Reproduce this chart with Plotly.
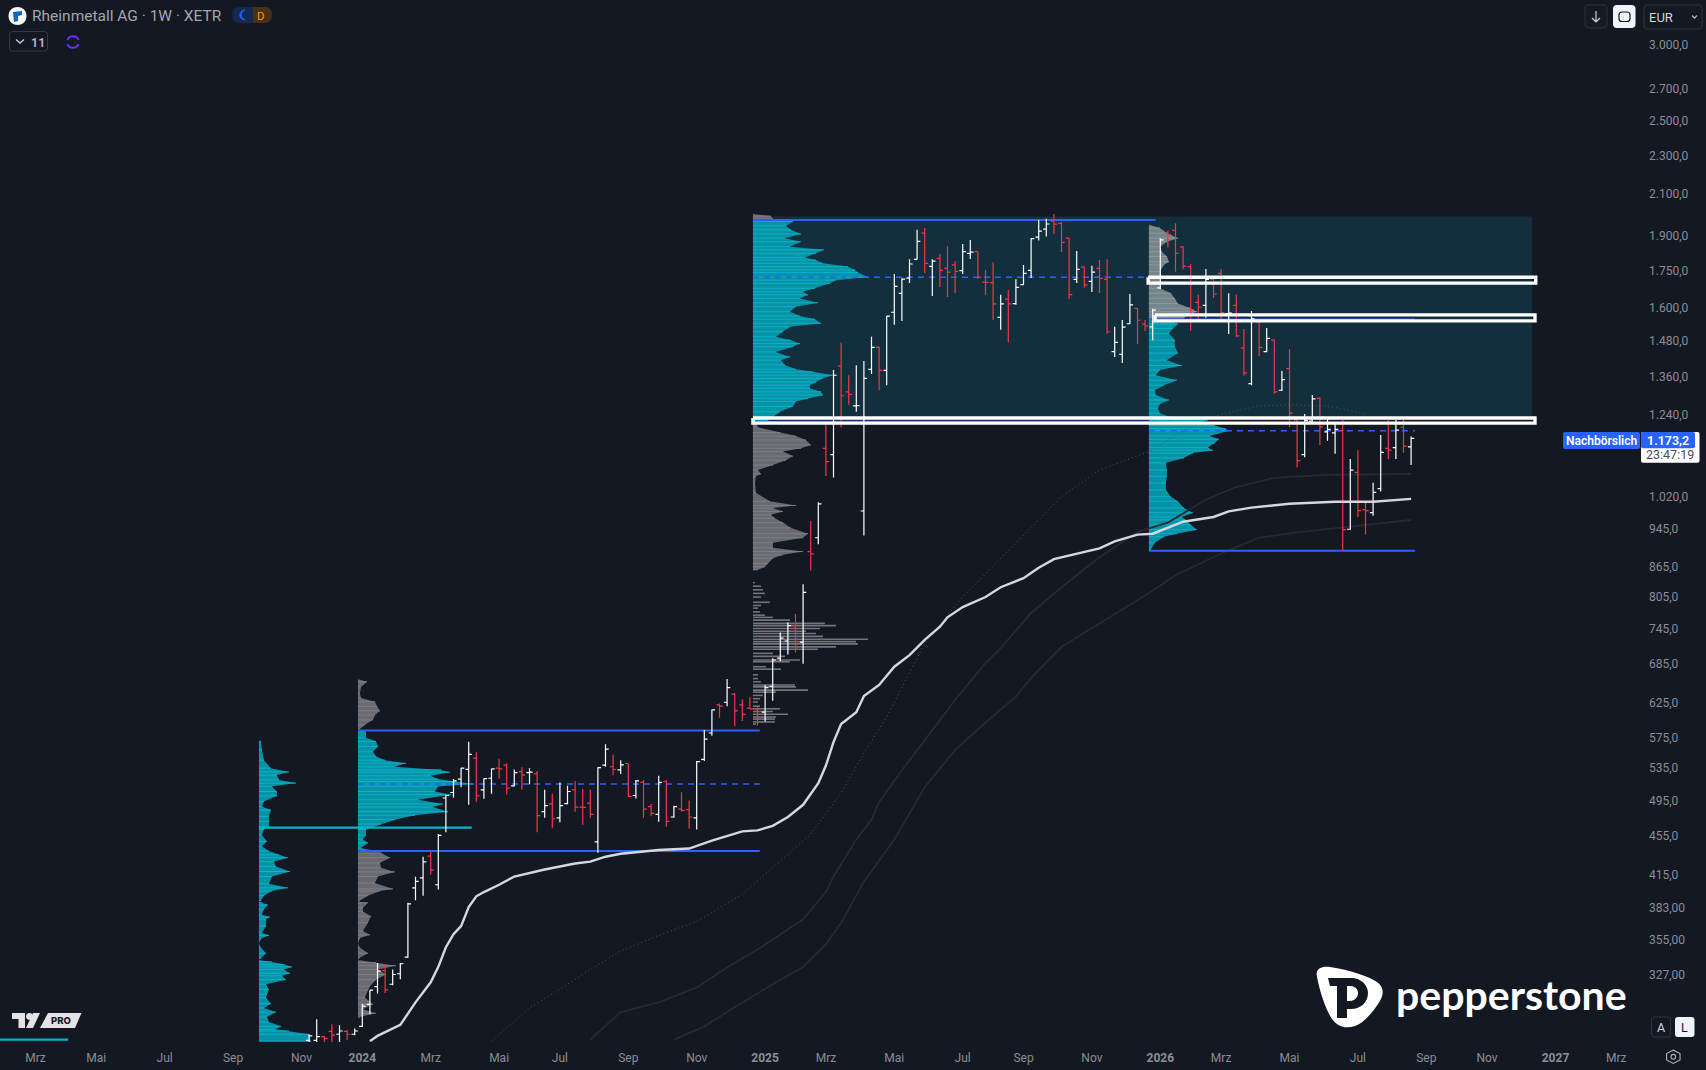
import pandas as pd
import plotly.graph_objects as go

BG = "#141823"
WEEK_PX = 7.6
X0_PX = 362.3
PLOT_W = 1640
PLOT_H = 1042
BASE = pd.Timestamp("2024-01-01")

# ---------- weekly OHLC, from 2023-11-13 ----------
first_week = "2023-11-13"
opens = [279.5,279.5,282,285.6,283.6,285.6,283.6,289,304.6,317.7,330,319.5,327.6,340.9,402,411.7,433.5,405,498,504.6,521,533.3,547.7,507.8,522,534.7,538.7,512.7,530.3,529,527.4,482,491,475,491.4,507.8,487.4,492,448.6,538.7,536.5,532.5,540.7,501,517,488,479,518,476,485,484.3,475,546,581.5,621.7,625.7,638,
 621.7,617,616,611,650,695,724,746,722,
 896,926,1146,1129,1394,1311,1268,987,1383,1458,1380,1585,1658,1719,1798,1914,1768,1802,1760,1774,1750,1824,1831,1703,1701,1566,1635,1618,1693,1751,1896,1932,1969,1959,1891,1714,1765,1706,1760,1714,1443,1434,1542,1600,1541,1531,
 1680,1915,1926,1852,1767,1623,1611,1715,1739,1580,1611,1455,1337,1549,1443,1483,1316,1386,1226,1129,1223,1291,1192,1189,1195,945,1082,990,983,1041,1146,1148,1205,1150]
highs = [283.6,294,282.5,290.5,289.8,286.5,287.5,305,315.2,336,335,331,336,388,412.7,433,438.5,457,502,521,535.4,569.3,555.4,522,534,547,541,533,536,534.7,531,507.8,503,516.8,512.7,518.7,509,507.8,536,566,552,545,541,520,520,491,525,520,489,505,495,544,585.6,615,624,661.5,639.6,
 630,633,618.5,652,695,739,757,772,829,
 964,1008,1214,1381,1475,1364,1397,1411,1495,1462,1571,1736,1719,1798,1929,1937,1798,1821,1855,1791,1865,1883,1831,1753,1786,1652,1671,1715,1774,1891,1975,1980,2003,1964,1891,1834,1768,1771,1795,1798,1531,1556,1655,1600,1556,1598,
 1891,1926,1959,1855,1778,1652,1757,1718,1757,1658,1652,1523,1590,1552,1527,1485,1378,1451,1226,1244,1301,1294,1231,1214,1226,1117,1141,1010,1056,1183,1226,1226,1226,1179]
lows = [278,278,278.5,278,278,279.8,283,288.6,297.5,312.6,313,318.7,323.3,340.4,390.3,394.6,415,400.5,459,498.3,511,490,493.6,497,503,521.3,502,512,507.8,514.7,459,475,463.4,470,490.6,482,467.4,475,437,536.5,526,527.4,499.6,497.5,475,476.7,470.6,465,475,482,463,462,544,577.5,603,619.7,591,
 598.4,616,592,597.6,628,690,701,704.5,686,
 856,912,1073,1069,1204,1272,1250,931,1368,1316.6,1332,1538,1552,1699,1797,1740,1648,1683,1644,1659,1736,1799,1716,1652,1556,1520,1476,1614,1692,1720,1880,1898,1910,1830,1636,1699,1680,1663,1659,1506,1425,1404,1540,1469,1516,1483,
 1675,1849,1746,1756,1517,1553,1564,1640,1553,1505,1494,1362,1332,1428,1441,1306,1314,1206,1095,1122,1221,1155,1167,1131,898,944,973,933,976,1034,1117,1117,1134,1101]
closes = [282.5,282,280.8,283,285.8,283.6,285.8,303.3,315,329.7,315.2,327,335.5,387,408.3,427.7,419.3,455.6,501,518.7,534.7,552.7,500.6,521.5,533.7,533.7,510,529,526,529.6,477.5,489,474,489,505.8,487.4,487,479,535.5,559.5,533,539,500,518.7,485,480,517,471,488,483.5,476,543,573,614.5,620,648,613,
 608,616,612,648,692,729,751,719,813,
 891,1004,1110,1364,1299,1303,1269,1354,1458,1380,1570,1686,1715,1778,1877,1781,1790,1751,1744,1747,1831,1829,1723,1702,1617,1617,1617,1682,1739,1889,1923,1956,1955,1872,1653,1756,1692,1744,1718,1513,1475,1530,1613,1555,1534,1593,
 1883,1906,1824,1769,1594,1604,1714,1655,1584,1582,1498,1372,1560,1458,1489,1311,1350,1246,1113,1224,1289,1206,1199,1199,944,1088,988,988,1032,1135,1141,1197,1152,1173.2]

# ---------- moving averages: (week number since 2024-01-01, price) ----------
ma_wk = [1,2,5,7,9,10,11,12,13,14,15,16,18,20,24,28,30,32,34,39,43,46,50,52,54,56,58,60,61,62,63,65,66,68,70,72,74,76,77,79,82,84,87,89,91,94,97,99,102,104,106,108,112,114,117,122,128,133,138]
ma_px = [279,282.5,290,306,321,333,349,360,367,384,394,398,405,413,420,426,428,433,436,440,441.5,450,460,461,466,476,490,516,538,569,594,611,635,652,681,700,726,749,766,785,804,823,841,862,880,892,903,918,933,935,948,962,973,986,995,1004,1009,1009,1016]
dot_wk = [17,22,27,30,34,39,44,50,59,63,66,69,72,74,79,84,88,92,97,104,108,113,118,122,127,132]
dot_px = [279,302,319.5,331,345.7,359,371,396,457,504,554,604,671,721,804,882,950,1021,1088,1141,1197,1243,1268,1271,1268,1243]
upper_wk = [30,34,39,44,48,52,58,61,62,65,67,68,71,75,78,82,84,88,92,97,102,106,111,115,120,127,138]
upper_px = [280,299,306,317,332.5,347,373,398,413,451,473,493,532,586,629,687,712,774,823,884,939,960,1014,1045,1068,1076,1078]
lower_wk = [41,45,49,54,58,61,63,66,70,74,78,82,86,88,92,97,103,107,113,118,123,138]
lower_px = [280,289,302.5,319.5,333,351.5,370,408,451,511,558.5,596,634,663,714,755,807,847,892,926,938,966]

# ---------- volume profiles: price level / volume (arbitrary units) ----------
a_lv = [570,558.5,545,534.7,530,526,520,516,512,505.8,500.6,494,488,484,476.7,471,465,462,456,449,444,439,435,432,428,423,418,413,406,402,399,394.6,390,389,388,386,382,377,375,373,367,361,359,356,352,348.6,344,340,338.5,337,335,333,331,328,326,323,319.5,315.7,312,309.5,305,302,299,295.5,292,289,287,285.8,283.6,279]
a_vol = [2,3,5,12,30,18,20,37,13,18,18,5,3,12,10,10,10,5,3,8,3,10,20,29,15,17,31,13,10,29,13,5,2,0,3,9,5,3,11,7,7,3,10,2,0,2,7,2,0,13,25,33,25,31,23,27,7,10,8,7,12,5,17,8,10,22,17,30,50,52]
b_up_lv = [661,657,649,639,632,626.5,619.7,613,607,600,593,587]
b_up_vol = [0,9,3,2,3,17,19,22,17,15,7,2]
b_mid_lv = [585,583,575,570,563,556,550,545,541,536.5,532.5,529.6,525,521,518,515,512,505.8,502,496,491,487.4,482,478,473,468,462,456,451,447.6,442,438.5]
b_mid_vol = [0,8,8,18,20,15,18,27,48,37,83,92,73,80,97,115,80,77,93,60,85,75,90,57,37,23,8,8,5,10,3,20]
b_lo_lv = [437,432,426.5,421.7,417.6,413,406.6,401,399,394.6,389.7,389,388,383.5,380,375.6,370,362.7,359.4,356.8,352,348.6,344,340.6,338.5,336.5,334,331,327,323,318,315,309.5,304.6,301,298.2,295.4]
b_lo_vol = [23,32,22,23,37,20,17,35,22,10,2,0,10,5,5,13,10,5,12,2,0,2,10,2,0,18,38,20,28,18,12,10,7,15,5,18,2]
c_top_lv = [2003,1993,1980]
c_top_vol = [0,18,20]
c_mid_lv = [1975,1968,1947,1929,1910,1891,1875,1853,1839,1824,1806,1795,1781,1767,1753,1742,1723,1711,1698,1678,1664,1652,1638,1621,1606,1587,1571,1559,1544,1531,1513,1495,1483,1471,1460,1442,1425,1414,1398,1384,1375,1364,1354,1342,1332,1322,1311,1301,1291,1281,1266,1250,1235,1224]
c_mid_vol = [30,40,33,38,48,32,48,37,71,63,52,63,70,95,102,105,115,83,77,62,50,55,47,65,43,37,47,62,68,37,30,23,38,47,40,23,37,28,32,43,60,80,70,63,57,57,68,70,55,43,40,27,20,15]
c_lo_lv = [1215,1205,1190,1180,1169,1155,1146,1137,1125,1114,1101,1088,1078,1072,1055,1031,1010,1000,994,986,978,970,960,948,935,926,915,904,896,889,882,871,864,858]
c_lo_vol = [3,5,27,43,53,58,48,30,40,33,20,5,8,3,2,3,17,43,20,30,18,22,30,38,55,50,20,20,50,30,20,15,12,5]
c_sparse_lv = [832,825,818,811,804,794,788,783,776,770,766,761,755,751,746,741,737,732,727,723,719,714,710,703,698,692,689,681,677,668,662,657,652,649,644,641,636,631,626,620,616,612,608,604,601,597,594]
c_sparse_vol = [2,8,10,12,8,17,8,5,7,12,20,37,72,83,67,53,63,70,115,103,105,83,65,20,32,47,37,13,28,5,5,8,42,43,55,23,10,7,5,7,27,20,35,23,22,22,3]
d_up_lv = [1953,1937,1914,1891,1875,1853,1831,1810,1788,1774,1746,1725,1698,1678,1658,1638,1618,1600,1587,1575,1563]
d_up_vol = [0,11,18,29,18,11,13,18,20,15,11,13,11,11,22,26,29,42,48,40,35]
d_lo_lv = [1558,1541,1525,1507,1483,1460,1438,1414,1396,1381,1364,1348,1332,1316,1301,1286,1274,1261,1246,1234,1226,1218,1210,1201,1195,1180,1171,1161,1148,1141,1133,1120,1107,1088,1072,1055,1038,1021,1010,994,983,973,966,955,944,935,928,915,900]
d_lo_vol = [20,29,24,20,26,26,29,18,33,11,7,28,15,6,7,20,11,9,11,22,59,51,66,77,80,61,70,66,59,64,44,35,17,18,18,17,17,22,29,35,44,33,37,42,48,28,15,6,2]

# ---------- reference levels (price) ----------
a_poc, old_poc = 464, 280
b_high, b_low, b_poc = 585, 439, 515
c_high, c_low, c_poc = 1975, 1221, 1723
d_high, d_low, d_poc = 1558, 898, 1195
zone_high, zone_low = 1991, 1226
box_1 = (1723, 1699)
box_2 = (1575, 1552.6)
box_3 = (1232, 1217)

# ---------- axis labels ----------
y_ticks = [3000,2700,2500,2300,2100,1900,1750,1600,1480,1360,1240,1020,945,865,805,745,685,625,575,535,495,455,415,383,355,327]
y_text = ["3.000,0","2.700,0","2.500,0","2.300,0","2.100,0","1.900,0","1.750,0","1.600,0","1.480,0","1.360,0","1.240,0","1.020,0","945,0","865,0","805,0","745,0","685,0","625,0","575,0","535,0","495,0","455,0","415,0","383,00","355,00","327,00"]
x_ticks = ["2023-03-06","2023-05-01","2023-07-03","2023-09-04","2023-11-06","2024-01-01","2024-03-04","2024-05-06","2024-07-01","2024-09-02","2024-11-04","2025-01-06","2025-03-03","2025-05-05","2025-07-07","2025-09-01","2025-11-03","2026-01-05","2026-03-02","2026-05-04","2026-07-06","2026-09-07","2026-11-02","2027-01-04","2027-03-01"]
x_text = ["Mrz","Mai","Jul","Sep","Nov","<b>2024</b>","Mrz","Mai","Jul","Sep","Nov","<b>2025</b>","Mrz","Mai","Jul","Sep","Nov","<b>2026</b>","Mrz","Mai","Jul","Sep","Nov","<b>2027</b>","Mrz"]


def wk(n):
    return BASE + pd.to_timedelta(n * 7, unit="D")


A_AT, B_AT, C_AT, D_AT = -13.6, -0.57, 51.4, 103.5
CYAN, CYAN_STRIPE = "#0892a6", "#08b2c8"
GREY, GREY_STRIPE = "#696b71", "#7c7f87"
D_GREY, D_GREY_STRIPE = "#76858a", "#8b989c"
BLUE = "#2962ff"
TOP = dict(xaxis="x3", yaxis="y3")

fig = go.Figure()


def line(xs, ys, color, width, dash="solid", **kw):
    fig.add_trace(go.Scatter(x=xs, y=ys, mode="lines", hoverinfo="skip", showlegend=False,
                             line=dict(color=color, width=width, dash=dash), **kw))


def profile(at, levels, vols, fill, stripe):
    xs = [wk(at + v / WEEK_PX) for v in vols]
    fig.add_trace(go.Scatter(x=[wk(at)] + xs + [wk(at)], y=[levels[0]] + levels + [levels[-1]],
                             mode="lines", fill="toself", fillcolor=fill, line=dict(width=0),
                             hoverinfo="skip", showlegend=False))
    sx, sy = [], []
    for x, p in zip(xs, levels):
        sx += [wk(at), x, None]
        sy += [p, p, None]
    line(sx, sy, stripe, 1)


def comb(at, levels, vols, color):
    sx, sy = [], []
    for v, p in zip(vols, levels):
        sx += [wk(at), wk(at + v / WEEK_PX), None]
        sy += [p, p, None]
    line(sx, sy, color, 1.6)


def box(l, r, y0, y1):
    line([wk(l), wk(r), wk(r), wk(l), wk(l)], [y0, y0, y1, y1, y0], "#ffffff", 3.4, **TOP)


# zone
fig.add_trace(go.Scatter(x=[wk(C_AT), wk(153.9), wk(153.9), wk(C_AT), wk(C_AT)],
                         y=[zone_high, zone_high, zone_low, zone_low, zone_high],
                         mode="lines", fill="toself", fillcolor="#132f3d", line=dict(width=0),
                         hoverinfo="skip", showlegend=False))

# profiles
profile(A_AT, a_lv, a_vol, CYAN, CYAN_STRIPE)
profile(B_AT, b_up_lv, b_up_vol, GREY, GREY_STRIPE)
profile(B_AT, b_mid_lv, b_mid_vol, CYAN, CYAN_STRIPE)
profile(B_AT, b_lo_lv, b_lo_vol, GREY, GREY_STRIPE)
profile(C_AT, c_top_lv, c_top_vol, GREY, GREY_STRIPE)
profile(C_AT, c_mid_lv, c_mid_vol, CYAN, CYAN_STRIPE)
profile(C_AT, c_lo_lv, c_lo_vol, GREY, GREY_STRIPE)
comb(C_AT, c_sparse_lv, c_sparse_vol, "#73757c")
profile(D_AT, d_up_lv, d_up_vol, D_GREY, D_GREY_STRIPE)
profile(D_AT, d_lo_lv, d_lo_vol, CYAN, CYAN_STRIPE)

# dim averages
line([wk(w) for w in upper_wk], upper_px, "#262a34", 1.8)
line([wk(w) for w in lower_wk], lower_px, "#262a34", 1.8)
line([wk(w) for w in dot_wk], dot_px, "#55553a", 1, dash="1px,3px")

# levels
line([wk(A_AT), wk(14.4)], [a_poc, a_poc], "#00b4cc", 2.2)
line([wk(-47.7), wk(-38.7)], [old_poc, old_poc], "#00b4cc", 2.2)
for at, end, hi, lo, poc in [(B_AT, 52.3, b_high, b_low, b_poc), (C_AT, 104.4, c_high, c_low, c_poc), (D_AT, 138.5, d_high, d_low, d_poc)]:
    line([wk(at), wk(end)], [hi, hi], BLUE, 2)
    line([wk(at), wk(end)], [lo, lo], BLUE, 2)
    line([wk(at), wk(end)], [poc, poc], BLUE, 1.4, dash="6px,5px")

# price bars (overlay axes keep them above the area fills)
dates = pd.date_range(first_week, periods=len(opens), freq="7D")
fig.add_trace(go.Ohlc(x=dates, open=opens, high=highs, low=lows, close=closes, tickwidth=0.42,
                      hoverinfo="skip", showlegend=False, xaxis="x2", yaxis="y2",
                      increasing=dict(line=dict(color="#ffffff", width=1.2)),
                      decreasing=dict(line=dict(color="#f23645", width=1.2))))

line([wk(w) for w in ma_wk], ma_px, "#d6d8de", 2.4, **TOP)

box(103.4, 154.4, *box_1)
box(104.3, 154.3, *box_2)
box(51.4, 154.3, *box_3)


# ---------- interface chrome, placed in pixels ----------
def X(px):
    return px / PLOT_W


def Y(py):
    return 1 - py / PLOT_H


def pth(s):
    out, is_x = [], True
    for tok in s.split():
        if tok.isalpha():
            out.append(tok)
        else:
            out.append(f"{X(float(tok)) if is_x else Y(float(tok)):.6f}")
            is_x = not is_x
    return " ".join(out)


shapes = []


def shape(s, fill=None, stroke=None, width=1):
    shapes.append(dict(type="path", path=pth(s), xref="paper", yref="paper", layer="above",
                       fillcolor=fill or "rgba(0,0,0,0)",
                       line=dict(color=stroke or "rgba(0,0,0,0)", width=width if stroke else 0)))


def rrect(x0, y0, x1, y1, r, fill=None, stroke=None, width=1):
    s = (f"M {x0+r} {y0} L {x1-r} {y0} Q {x1} {y0} {x1} {y0+r} L {x1} {y1-r} Q {x1} {y1} {x1-r} {y1} "
         f"L {x0+r} {y1} Q {x0} {y1} {x0} {y1-r} L {x0} {y0+r} Q {x0} {y0} {x0+r} {y0} Z")
    shape(s, fill, stroke, width)


annots = []


def note(text, x, y, size=12, color="#9598a1", anchor="left", family="Roboto", weight=None):
    f = dict(family=family, size=size, color=color)
    if weight:
        f["weight"] = weight
    annots.append(dict(text=text, x=X(x), y=Y(y), xref="paper", yref="paper", xanchor=anchor, yanchor="middle",
                       showarrow=False, font=f, borderpad=0))


# header
shape("M 8.5 16 C 8.5 4 26.5 4 26.5 16 C 26.5 28 8.5 28 8.5 16 Z", "#f5f7fa")
shape("M 13 12 L 22 11 L 22 15 L 18 16 L 18 21 L 14 22 Z", "#1565c0")
note("Rheinmetall AG · 1W · XETR", 31, 16, 15.5, "#a3a6af")
rrect(232, 7, 272, 23, 8, "#132a52")
shape("M 253 7 L 264 7 Q 272 7 272 15 Q 272 23 264 23 L 253 23 Z", "#4a3018")
shape("M 245 10 C 238 10 238 20 245 20 C 240 18 240 12 245 10 Z", "#1f5fe8", "#1f5fe8", 1)
note("D", 261, 15.5, 11.5, "#ff9800", "center")
rrect(9.5, 31.5, 47.5, 51, 3, None, "#363a45", 1)
shape("M 16 39.5 L 20 43 L 24 39.5", None, "#c4c7cf", 1.4)
note("11", 30, 42, 12.5, "#b2b5be", weight=600)
shape("M 67.5 40 C 69 35 77 35 78.5 40", None, "#6d2df0", 2)
shape("M 78.5 44 C 77 49 69 49 67.5 44", None, "#6d2df0", 2)

# top right
rrect(1585, 5, 1607, 28, 4, "#161a24", "#30343f", 1)
shape("M 1596 11 L 1596 22 M 1592 18 L 1596 22 L 1600 18", None, "#d1d4dc", 1.2)
rrect(1613, 5, 1635.5, 28, 4, "#f0f3fa")
rrect(1619, 12, 1630, 21.5, 3, None, "#131722", 1.2)
rrect(1644, 5, 1702, 29, 4, BG, "#30343f", 1)
note("EUR", 1647.5, 17, 13, "#d1d4dc")
shape("M 1692 15.5 L 1694.5 18 L 1697 15.5", None, "#b2b5be", 1.3)

# price labels
rrect(1563, 432, 1640, 449, 2, BLUE)
note("Nachbörslich", 1601.5, 440.5, 12, "#ffffff", "center", weight=600)
rrect(1641, 432, 1699.5, 462.7, 2, "#ffffff")
rrect(1641, 432, 1695, 448.3, 2, BLUE)
note("1.173,2", 1668, 440.5, 12.5, "#ffffff", "center", weight=600)
note("23:47:19", 1670, 454.5, 12.5, "#4a4d57", "center")

# TradingView mark
shape("M 12 1013 L 25 1013 L 25 1028 L 18.5 1028 L 18.5 1019 L 12 1019 Z", "#e3e3e5")
shape("M 26 1016.5 C 26 1012 33 1012 33 1016.5 C 33 1021 26 1021 26 1016.5 Z", "#e3e3e5")
shape("M 40 1013 L 33 1028 L 26 1028 L 33 1013 Z", "#e3e3e5")
shape("M 48 1013 L 81.5 1013 L 75 1028 L 40 1028 Z", "#e3e3e5")
note("PRO", 61, 1020.8, 9.5, "#131722", "center", weight=800, family="Inter")

# Pepperstone mark
shape("M 1317 977 C 1315 968 1322 966 1330 967 C 1350 970 1368 976 1377 982 C 1384 987 1384 994 1380 1001 "
      "C 1374 1011 1364 1023 1355 1026 C 1346 1029 1338 1027 1332 1019 C 1325 1008 1320 992 1317 977 Z", "#ffffff")
shape("M 1328 978 L 1351 978 C 1362 978 1368 986 1368 993 C 1368 1002 1361 1009 1351 1009 L 1347 1009 L 1347 1018 "
      "L 1337 1018 L 1337 986 L 1330 986 Z M 1347 986 L 1347 1001 L 1350 1001 C 1355 1001 1358 997 1358 993 C 1358 989 1355 986 1350 986 Z",
      BG)
note("pepperstone", 1395, 994, 41, "#ffffff", weight=700, family="Lato")

# A / L buttons, gear
rrect(1651.5, 1017, 1670.5, 1037, 3, BG, "#30343f", 1)
note("A", 1661, 1027.5, 12.5, "#d1d4dc", "center")
rrect(1675, 1017, 1694.5, 1037, 3, "#f0f3fa")
note("L", 1685, 1027.5, 12.5, "#131722", "center")
shape("M 1673.3 1050 L 1680 1053.5 L 1680 1060 L 1673.3 1063.5 L 1666.6 1060 L 1666.6 1053.5 Z", None, "#b2b5be", 1.1)
shape("M 1671 1056.8 C 1671 1053.6 1675.6 1053.6 1675.6 1056.8 C 1675.6 1060 1671 1060 1671 1056.8 Z", None, "#b2b5be", 1.1)

x_range = [wk(-X0_PX / WEEK_PX), wk((PLOT_W - X0_PX) / WEEK_PX)]
y_range = [2.4447, 3.5232]
hidden_x = dict(type="date", range=x_range, overlaying="x", visible=False, rangeslider=dict(visible=False))
hidden_y = dict(type="log", range=y_range, overlaying="y", side="right", visible=False)

fig.update_layout(
    width=1706, height=1070, autosize=False,
    margin=dict(l=0, r=1706 - PLOT_W, t=0, b=1070 - PLOT_H, pad=0),
    paper_bgcolor=BG, plot_bgcolor=BG, showlegend=False, hovermode=False,
    font=dict(family="Roboto", color="#9598a1", size=12),
    shapes=shapes, annotations=annots,
    xaxis=dict(type="date", range=x_range,
               tickmode="array", tickvals=x_ticks, ticktext=x_text, tickangle=0,
               showgrid=False, zeroline=False, showline=False, ticks="", ticklabelstandoff=7,
               rangeslider=dict(visible=False), tickfont=dict(family="Roboto", size=12, color="#8b8e97")),
    yaxis=dict(type="log", side="right", range=y_range,
               tickmode="array", tickvals=y_ticks, ticktext=y_text,
               showgrid=False, zeroline=False, showline=False, ticks="", ticklabelstandoff=8,
               tickfont=dict(family="Roboto", size=12, color="#8b8e97")),
    xaxis2=hidden_x, yaxis2=hidden_y, xaxis3=hidden_x, yaxis3=hidden_y,
)

fig.write_html("out.html", config={"displayModeBar": False},
               post_script="document.body.style.margin='0';document.body.style.overflow='hidden';")
